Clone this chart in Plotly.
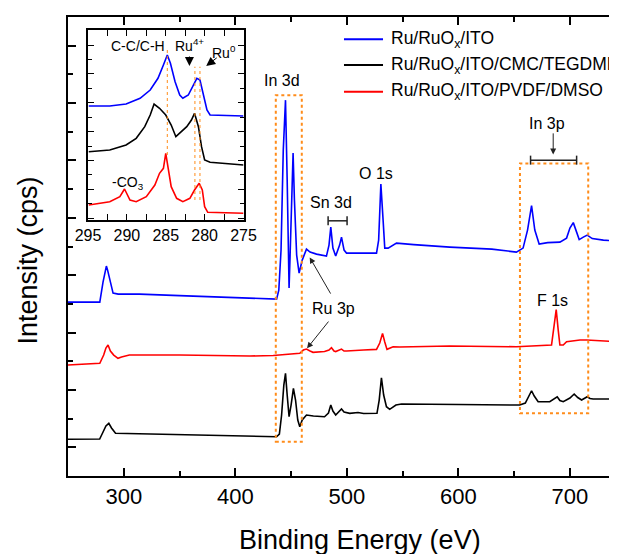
import plotly.graph_objects as go

# ---------------- data (main survey spectra, arbitrary intensity units) ----------------
blue_be = [250, 278.5, 281.4, 283, 284.4, 285.5, 287.4, 290.4, 295, 314, 350, 400, 437, 439, 441, 443, 445,
           446.5, 447.5, 448.2, 449, 450.5, 451.8, 453, 455, 457.2, 460, 463.8, 467, 472.8, 481.7, 484,
           485.6, 487.5, 490, 493.5, 495.2, 497.5, 499.7, 510, 526.6, 528.5, 530.5, 532.5, 534, 537, 544.5,
           560, 592.3, 630, 652, 658, 662, 665.6, 668.5, 672.4, 680, 691, 697, 700, 703, 706, 708.3, 712,
           715.5, 720, 730, 742.5]
blue_int = [174, 174, 194, 204, 210, 206, 196, 183, 182, 182, 180.5, 178.5, 177, 186, 226, 326, 376,
            296, 206, 188, 216, 286, 323, 276, 221, 203, 216, 227, 224, 222, 220, 231,
            249, 228, 220, 231, 239, 226, 223, 223, 223, 236, 292, 256, 228, 228, 233,
            231.5, 229, 227, 224, 228, 246, 270.5, 246, 232, 233.5, 234, 238, 248, 253.5, 244, 236.5, 239,
            241, 237.5, 236, 235]

red_be = [250, 278.5, 282, 284, 285.9, 288, 291, 292.5, 294.8, 298, 305, 350, 413, 434, 457.8, 461, 463.8,
          467, 469.7, 480, 484, 486.2, 488.5, 490, 493, 495.2, 497.5, 499.7, 515, 526.6, 529.5, 532, 534,
          536, 541.5, 547.5, 592, 652, 683.5, 685.5, 687.7, 689.5, 691, 694, 697, 709, 715, 742]
red_int = [111, 112.7, 121, 128, 131, 125, 121, 120, 117.7, 119, 121, 121, 120, 120.5, 122.7, 126, 127,
           125, 123.7, 124.5, 126, 128.3, 125, 124.5, 126, 127, 125, 125, 126, 126.7, 133, 142.7, 134,
           126.7, 129.3, 129, 130, 129.3, 131, 146, 166.5, 146, 131, 131, 134.3, 136, 136, 134.3]

black_be = [250, 278.4, 281, 284, 286.6, 289, 292.6, 300, 350, 400, 437, 439.5, 441.5, 443.5, 445, 446.5,
            448.2, 450, 452.1, 454, 456, 457.8, 460, 463.8, 470, 480, 483.5, 485.6, 487.5, 490, 493, 495.2,
            497.5, 502.6, 510, 515, 527, 529, 531, 533, 535.5, 538.4, 544, 549, 600, 651.5, 655, 660, 663.5,
            665.6, 668, 671.5, 681.9, 685.5, 688.6, 691, 694, 700, 703.8, 707, 710.5, 715.5, 718, 720.8, 742]
black_int = [36.7, 37, 43, 50, 52.7, 48, 42.7, 42.5, 41.5, 40, 39.3, 42, 61, 91, 102.7, 81,
             59.3, 71, 87.7, 76, 56, 49.3, 56, 61, 60, 59.3, 63, 71, 65, 61, 64, 67,
             64, 62.7, 63.5, 62.5, 62.7, 76, 98.3, 81, 69.3, 66.7, 71, 72, 71.5, 71, 71, 73, 81,
             85.3, 80, 74.3, 74.3, 77, 79.3, 75.5, 74.3, 78, 82, 78.5, 76, 79.3, 77.5, 77, 77]

# ---------------- data (inset: C 1s / Ru 3d region) ----------------
in_blue_be = [294.9, 292.2, 290.1, 288.3, 287.0, 286.0, 285.3, 284.8, 284.4, 283.8, 283.2, 282.8, 282.1,
              281.5, 281.0, 280.6, 280.2, 279.7, 279.3, 275]
in_blue_int = [114, 114, 116, 121.7, 130, 141.7, 155, 165, 156.7, 138.3, 125, 121.7, 125,
               135, 141.7, 140, 126.7, 110, 105, 104]
in_black_be = [294.9, 292.2, 290.1, 288.8, 287.7, 287.0, 286.5, 285.8, 285.0, 284.3, 283.7, 283.2, 282.3,
               281.7, 281.3, 280.8, 280.4, 280.0, 279.3, 275]
in_black_int = [68.3, 70, 75, 81.7, 93.3, 105, 116, 111.7, 105, 95, 83.3, 86.7, 93.3,
                100, 106.7, 93.3, 73.3, 60, 57.7, 55]
in_red_be = [294.9, 292.2, 290.9, 290.3, 289.6, 288.8, 287.5, 286.4, 285.8, 285.3, 285.0, 284.7, 284.3,
             283.6, 282.8, 281.9, 281.3, 280.7, 280.3, 280.0, 279.6, 275]
in_red_int = [15, 18.3, 23.3, 31, 20, 18.3, 23.3, 35, 46.7, 51.7, 66.7, 53.3, 33.3,
              21.7, 18.3, 21.7, 30, 36.7, 30, 13.3, 7.7, 6.7]

series_names = ["Ru/RuO<sub>x</sub>/ITO", "Ru/RuO<sub>x</sub>/ITO/CMC/TEGDME", "Ru/RuO<sub>x</sub>/ITO/PVDF/DMSO"]
series_colors = ["#0000FF", "#000000", "#FF0000"]
main_ticks = [300, 400, 500, 600, 700]
inset_ticks = [295, 290, 285, 280, 275]

ORANGE = "#FF8C1A"
FONT = "Liberation Sans, Arial, sans-serif"

# The page body has an 8 px margin, so the figure is 8 px smaller and shifted accordingly.
W, H = 609, 546
ML, MT, PW, PH = 60, 9, 549, 459

fig = go.Figure()
for be, it, c in [(blue_be, blue_int, series_colors[0]), (red_be, red_int, series_colors[2]),
                  (black_be, black_int, series_colors[1])]:
    fig.add_trace(go.Scatter(x=be, y=it, mode="lines", line=dict(color=c, width=1.6),
                             showlegend=False, xaxis="x", yaxis="y"))
for be, it, c in [(in_blue_be, in_blue_int, series_colors[0]), (in_black_be, in_black_int, series_colors[1]),
                  (in_red_be, in_red_int, series_colors[2])]:
    fig.add_trace(go.Scatter(x=be, y=it, mode="lines", line=dict(color=c, width=1.6),
                             showlegend=False, xaxis="x2", yaxis="y2"))

shapes = []
shapes.append(dict(type="rect", xref="x", yref="y", x0=436.3, x1=459.6, y0=34.3, y1=381,
                   line=dict(color=ORANGE, width=2, dash="dot")))
shapes.append(dict(type="rect", xref="x", yref="y", x0=655.2, x1=716.4, y0=62.7, y1=312.7,
                   line=dict(color=ORANGE, width=2, dash="dot")))
for x0, x1, yv in [(483.2, 500.2, 255.3), (664.7, 706, 316)]:
    shapes.append(dict(type="line", xref="x", yref="y", x0=x0, x1=x1, y0=yv, y1=yv,
                       line=dict(color="#222", width=1.5)))
    for xx in (x0, x1):
        shapes.append(dict(type="line", xref="x", yref="y", x0=xx, x1=xx, y0=yv - 4.5, y1=yv + 4.5,
                           line=dict(color="#222", width=1.5)))
shapes.append(dict(type="line", xref="x2", yref="y2", x0=284.8, x1=284.8, y0=65, y1=171.7,
                   line=dict(color=ORANGE, width=1, dash="dot")))
for xx in (281.25, 280.6):
    shapes.append(dict(type="line", xref="x2", yref="y2", x0=xx, x1=xx, y0=20, y1=153.3,
                       line=dict(color=ORANGE, width=1, dash="dot")))
leg_y = [0.9514, 0.8954, 0.8373]
for c, yy in zip(series_colors, leg_y):
    shapes.append(dict(type="line", xref="paper", yref="paper", x0=0.5027, x1=0.5738, y0=yy, y1=yy,
                       line=dict(color=c, width=2)))

ann = []
for name, yy in zip(series_names, leg_y):
    ann.append(dict(xref="paper", yref="paper", x=0.5847, y=yy, text=name, showarrow=False,
                    xanchor="left", yanchor="middle", font=dict(size=17.5, color="black")))

lab = dict(size=16, color="black")
for t, x, y in [("In 3d", 442.1, 395.3), ("Sn 3d", 486.2, 273.5), ("O 1s", 525.8, 303),
                ("F 1s", 684.3, 175.2), ("Ru 3p", 488.1, 167.7), ("In 3p", 679, 352.7)]:
    ann.append(dict(xref="x", yref="y", x=x, y=y, text=t, showarrow=False, font=lab))
for (tx, ty, hx, hy) in [(486.2, 181, 466.7, 218.7), (484.6, 156, 464.3, 127.7), (685, 344.3, 685, 321.7)]:
    ann.append(dict(xref="x", yref="y", axref="x", ayref="y", x=hx, y=hy, ax=tx, ay=ty, text="",
                    showarrow=True, arrowhead=2, arrowsize=1.2, arrowwidth=1, arrowcolor="#222"))
il = dict(size=14, color="black")
ann.append(dict(xref="x2", yref="y2", x=288.6, y=173.8, text="C-C/C-H", showarrow=False, font=il))
ann.append(dict(xref="x2", yref="y2", x=282.0, y=175, text="Ru<sup>4+</sup>", showarrow=False, font=il))
ann.append(dict(xref="x2", yref="y2", x=277.55, y=167.5, text="Ru<sup>0</sup>", showarrow=False, font=il))
ann.append(dict(xref="x2", yref="y2", x=289.9, y=37.5, text="-CO<sub>3</sub>", showarrow=False, font=il))
for (tx, ty, hx, hy) in [(281.95, 165, 281.95, 154), (278.25, 163.3, 279.8, 154)]:
    ann.append(dict(xref="x2", yref="y2", axref="x2", ayref="y2", x=hx, y=hy, ax=tx, ay=ty, text="",
                    showarrow=True, arrowhead=2, arrowsize=1.8, arrowwidth=1, arrowcolor="black"))
ann.append(dict(xref="paper", yref="paper", x=(27.5 - 68) / PW, y=(476 - 261) / PH,
                text="Intensity (cps)", textangle=-90, showarrow=False,
                xanchor="center", yanchor="middle", font=dict(size=27, color="black")))
ann.append(dict(xref="paper", yref="paper", x=(360 - 68) / PW, y=(476 - 540) / PH,
                text="Binding Energy (eV)", showarrow=False,
                xanchor="center", yanchor="middle", font=dict(size=27, color="black")))

fig.update_layout(
    width=W, height=H,
    margin=dict(l=ML, r=W - ML - PW, t=MT, b=H - MT - PH, pad=0, autoexpand=False),
    paper_bgcolor="white", plot_bgcolor="white",
    font=dict(family=FONT, color="black"),
    showlegend=False,
    shapes=shapes, annotations=ann,
    xaxis=dict(range=[250, 742.2], domain=[0, 1], anchor="y", showline=True, linecolor="black", linewidth=2,
               mirror="ticks", ticks="inside", ticklen=8, tickwidth=1.5, tickcolor="black",
               tickvals=main_ticks, ticktext=[str(v) for v in main_ticks], automargin=False,
               tickfont=dict(size=22, color="black"), showgrid=False, zeroline=False,
               minor=dict(ticks="inside", ticklen=5, tick0=0, dtick=50, tickwidth=1.5, tickcolor="black",
                          showgrid=False)),
    yaxis=dict(range=[0, 459.2], domain=[0, 1], anchor="x", showline=True, linecolor="black", linewidth=2,
               ticks="inside", ticklen=8, tickwidth=1.5, tickcolor="black", tick0=28.7, dtick=57.4,
               showticklabels=False, showgrid=False, zeroline=False, automargin=False,
               minor=dict(ticks="inside", ticklen=5, tick0=0, dtick=28.7, tickwidth=1.5, tickcolor="black",
                          showgrid=False)),
    xaxis2=dict(range=[295, 275], domain=[0.0364, 0.3197], anchor="y2", showline=True, linecolor="black",
                linewidth=1.5, mirror="ticks", ticks="inside", ticklen=6, tickwidth=1.2, tickcolor="black",
                tickvals=inset_ticks, ticktext=[str(v) for v in inset_ticks], automargin=False,
                tickfont=dict(size=16, color="black"), showgrid=False, zeroline=False,
                minor=dict(ticks="inside", ticklen=6, tick0=0, dtick=2.5, tickwidth=1.2, tickcolor="black",
                           showgrid=False)),
    yaxis2=dict(range=[0, 190], domain=[0.5577, 0.9717], anchor="x2", showline=True, linecolor="black",
                linewidth=1.5, mirror="ticks", ticks="inside", ticklen=6, tickwidth=1.2, tickcolor="black",
                tick0=2, dtick=28.8, showticklabels=False, showgrid=False, zeroline=False, automargin=False,
                minor=dict(ticks="inside", ticklen=4, tick0=2, dtick=14.4, tickwidth=1.2, tickcolor="black",
                           showgrid=False)),
)

fig.write_html("out.html")
